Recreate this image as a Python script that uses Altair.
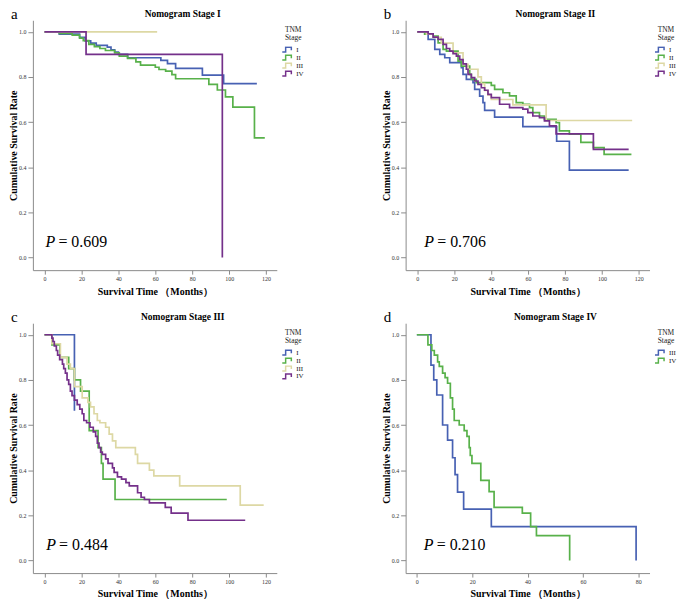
import altair as alt
import pandas as pd

SERIF = "Liberation Serif"

STAGES_ABC = ["I", "II", "III", "IV"]
STAGES_D = ["III", "IV"]
COLORS_ABC = ["#4761b3", "#58b14a", "#ddd8a4", "#74308a"]
COLORS_D = ["#4761b3", "#58b14a"]

PANEL_TITLES = ["Nomogram Stage I", "Nomogram Stage II", "Nomogram Stage III", "Nomogram Stage IV"]
PANEL_LETTERS = ["a", "b", "c", "d"]
P_VALUES = ["0.609", "0.706", "0.484", "0.210"]
X_TICKS_120 = [0, 20, 40, 60, 80, 100, 120]
X_TICKS_80 = [0, 20, 40, 60, 80]
Y_TICKS = [0.0, 0.2, 0.4, 0.6, 0.8, 1.0]

# ---- Panel a (Nomogram Stage I)
A_I_T = [0, 8, 19, 22, 25, 28, 34, 36, 38, 40, 45, 63, 66.6, 71, 85.5, 97, 115]
A_I_S = [1, 0.99, 0.975, 0.96, 0.95, 0.94, 0.932, 0.92, 0.91, 0.90, 0.885, 0.873, 0.859, 0.838, 0.808, 0.77, 0.77]
A_II_T = [0, 8, 15, 19, 21, 24, 27, 30, 33, 38, 40.5, 45, 49.5, 52, 60, 62, 65.6, 69, 71, 89, 93.6, 98, 102, 113.7, 119.3]
A_II_S = [1, 0.993, 0.985, 0.972, 0.961, 0.944, 0.934, 0.926, 0.917, 0.907, 0.892, 0.882, 0.867, 0.852, 0.843, 0.833, 0.826, 0.81, 0.792, 0.767, 0.742, 0.712, 0.666, 0.53, 0.53]
A_III_T = [0, 61]
A_III_S = [1, 1]
A_IV_T = [0, 22.5, 96.3]
A_IV_S = [1, 0.9, 0]

# ---- Panel b (Nomogram Stage II)
B_I_T = [0, 5.9, 9.5, 12.2, 14.9, 17.6, 23.9, 24.8, 26.6, 30.2, 31.1, 33.8, 35.6, 36.5, 41.9, 57.2, 75.5, 82.4, 114.5]
B_I_S = [1, 0.966, 0.922, 0.90, 0.885, 0.863, 0.841, 0.811, 0.789, 0.775, 0.745, 0.715, 0.686, 0.652, 0.622, 0.58, 0.515, 0.387, 0.387]
B_II_T = [0, 4, 8.6, 11.3, 14.0, 15.8, 22.1, 23.9, 28.4, 29.3, 32.0, 40.1, 41.9, 46.4, 50.0, 53.6, 57.2, 60.8, 62.6, 66.2,
          68.9, 75.2, 77.0, 82.4, 88.6, 95.4, 101.2, 116]
B_II_S = [1, 0.99, 0.981, 0.951, 0.922, 0.914, 0.870, 0.848, 0.811, 0.789, 0.775, 0.763, 0.745, 0.730, 0.716, 0.686, 0.678,
          0.664, 0.642, 0.627, 0.612, 0.598, 0.561, 0.546, 0.51, 0.487, 0.457, 0.457]
B_III_T = [0, 5, 8.6, 13, 19.4, 24.8, 27.5, 32.9, 34.7, 36.5, 38.3, 40.1, 51.8, 69.8, 116.4]
B_III_S = [1, 0.99, 0.975, 0.95, 0.907, 0.856, 0.834, 0.80, 0.77, 0.74, 0.72, 0.70, 0.676, 0.607, 0.607]
B_IV_T = [0, 5.9, 8.6, 11.3, 14.0, 15.8, 17.6, 19.4, 21.2, 23.0, 24.8, 26.6, 27.5, 29.3, 31.1, 32.9, 34.7, 36.5, 38.3,
          40.1, 44.6, 50.0, 57.2, 59.9, 62.6, 66.2, 68.9, 71.6, 75.2, 95.4, 114.5]
B_IV_S = [1, 0.991, 0.976, 0.966, 0.944, 0.926, 0.914, 0.903, 0.892, 0.877, 0.858, 0.834, 0.811, 0.797, 0.782, 0.767,
          0.752, 0.741, 0.723, 0.708, 0.679, 0.664, 0.657, 0.642, 0.627, 0.62, 0.605, 0.583, 0.548, 0.479, 0.479]

# ---- Panel c (Nomogram Stage III)
C_I_T = [0, 16.2]
C_I_S = [1, 0.663]
C_II_T = [0, 4, 8.4, 13.1, 16.2, 19.5, 24.2, 29, 30.8, 31.7, 38.2, 98.7]
C_II_S = [1, 0.955, 0.90, 0.85, 0.80, 0.75, 0.575, 0.50, 0.43, 0.36, 0.27, 0.27]
C_III_T = [0, 4, 8.6, 12.2, 14, 16.2, 20.4, 23.5, 24.9, 26.8, 28.6, 30, 33.1, 35, 36.8, 38.6, 49.2, 50.4, 56.8, 59.2,
           73.2, 106, 118.7]
C_III_S = [1, 0.96, 0.90, 0.87, 0.85, 0.77, 0.72, 0.70, 0.68, 0.65, 0.62, 0.61, 0.59, 0.56, 0.53, 0.50, 0.47, 0.43,
           0.40, 0.375, 0.33, 0.245, 0.245]
C_IV_T = [0, 4.0, 4.6, 5.3, 6.4, 7.1, 8.2, 9.7, 10.4, 11.3, 12.2, 13.1, 14.0, 14.9, 16.2, 17.7, 19.1, 20.4, 21.3, 22.8,
          24.6, 26.4, 27.7, 28.6, 29.5, 30.4, 31.3, 33.1, 34.4, 36.8, 37.7, 39.5, 41.7, 44.1, 45.9, 50.4, 52.3, 54.1,
          56.8, 65.4, 68.6, 77.7, 108.7]
C_IV_S = [1, 0.985, 0.97, 0.95, 0.93, 0.91, 0.89, 0.87, 0.85, 0.83, 0.80, 0.78, 0.75, 0.73, 0.71, 0.69, 0.67, 0.65,
          0.62, 0.61, 0.59, 0.57, 0.55, 0.52, 0.50, 0.48, 0.47, 0.45, 0.43, 0.41, 0.39, 0.37, 0.36, 0.345, 0.33, 0.30,
          0.28, 0.27, 0.255, 0.235, 0.21, 0.178, 0.178]

# ---- Panel d (Nomogram Stage IV)
D_III_T = [0, 5.1, 6.1, 7.2, 9.3, 11.1, 12.9, 13.8, 14.7, 16.9, 26.9, 79.2]
D_III_S = [1, 0.865, 0.80, 0.733, 0.60, 0.533, 0.455, 0.38, 0.303, 0.227, 0.15, 0]
D_IV_T = [0, 4.0, 5.4, 6.3, 7.5, 8.1, 9.3, 10.2, 11.1, 12.1, 12.9, 13.5, 15.3, 17.1, 18.1, 18.9, 19.3, 19.9, 23.1,
          26.1, 27.9, 38.1, 41.1, 43.2, 55.2]
D_IV_S = [1, 0.955, 0.93, 0.91, 0.88, 0.86, 0.83, 0.81, 0.785, 0.72, 0.67, 0.62, 0.60, 0.575, 0.55, 0.50, 0.465, 0.43,
          0.355, 0.305, 0.235, 0.21, 0.15, 0.11, 0]

W, H = 245, 251
Y_DOMAIN = [-0.056, 1.051]
STEP_SYMBOL = "M-1.7,0.8H-0.2V-0.8H1.7V0.2"


def panel(series, stages, colors, title, letter, pval, xdom, xticks, p_x):
    rows = []
    for stg, (ts, ss) in zip(stages, series):
        for t, s in zip(ts, ss):
            rows.append({"stage": stg, "t": t, "s": s})
    df = pd.DataFrame(rows)

    x = alt.X("t:Q", scale=alt.Scale(domain=xdom, nice=False, zero=False),
              axis=alt.Axis(values=xticks, format="d", title="Survival Time （Months）"))
    y = alt.Y("s:Q", scale=alt.Scale(domain=Y_DOMAIN, nice=False, zero=False),
              axis=alt.Axis(values=Y_TICKS, format=".1f", title="Cumulative Survival Rate"))

    lines = alt.Chart(df).mark_line(interpolate="step-after", strokeWidth=1.7).encode(
        x=x, y=y,
        color=alt.Color("stage:N", scale=alt.Scale(domain=stages, range=colors),
                        legend=alt.Legend(title=["TNM", "Stage"], orient="none", legendX=250.5, legendY=6,
                                          symbolType=STEP_SYMBOL, symbolSize=36, symbolStrokeWidth=1.5,
                                          symbolFillColor="transparent", clipHeight=7,
                                          labelFont=SERIF, labelFontSize=7, labelOffset=6, labelColor="#222",
                                          titleFont=SERIF, titleFontSize=7.5, titleFontWeight="normal",
                                          titleColor="#222", titleAnchor="middle", titleLineHeight=7.5,
                                          titlePadding=5, rowPadding=0, padding=0)),
    )

    ann = pd.DataFrame({"t": [p_x], "s": [0.047], "P": ["P"], "rest": ["= " + pval], "letter": [letter],
                        "title": [title]})
    p_it = alt.Chart(ann).mark_text(font=SERIF, fontStyle="italic", fontSize=16, align="left",
                                    baseline="alphabetic").encode(x=x, y=y, text="P:N")
    p_rest = alt.Chart(ann).mark_text(font=SERIF, fontSize=16, align="left", baseline="alphabetic",
                                      dx=13).encode(x=x, y=y, text="rest:N")
    let = alt.Chart(ann).mark_text(font=SERIF, fontSize=15, align="left", baseline="alphabetic").encode(
        x=alt.value(-22), y=alt.value(-1.2), text="letter:N")
    ttl = alt.Chart(ann).mark_text(font=SERIF, fontSize=9.5, fontWeight="bold", align="center",
                                   baseline="alphabetic", color="#000").encode(
        x=alt.value(W / 2 + 28), y=alt.value(-3.5), text="title:N")

    return alt.layer(lines, p_it, p_rest, let, ttl).properties(width=W, height=H)


pa = panel([(A_I_T, A_I_S), (A_II_T, A_II_S), (A_III_T, A_III_S), (A_IV_T, A_IV_S)], STAGES_ABC, COLORS_ABC,
           PANEL_TITLES[0], PANEL_LETTERS[0], P_VALUES[0], [-6.3, 125.8], X_TICKS_120, 0.5)
pb = panel([(B_I_T, B_I_S), (B_II_T, B_II_S), (B_III_T, B_III_S), (B_IV_T, B_IV_S)], STAGES_ABC, COLORS_ABC,
           PANEL_TITLES[1], PANEL_LETTERS[1], P_VALUES[1], [-6.3, 125.8], X_TICKS_120, 3.8)
pc = panel([(C_I_T, C_I_S), (C_II_T, C_II_S), (C_III_T, C_III_S), (C_IV_T, C_IV_S)], STAGES_ABC, COLORS_ABC,
           PANEL_TITLES[2], PANEL_LETTERS[2], P_VALUES[2], [-6.3, 125.8], X_TICKS_120, 0.9)
pd_ = panel([(D_III_T, D_III_S), (D_IV_T, D_IV_S)], STAGES_D, COLORS_D,
            PANEL_TITLES[3], PANEL_LETTERS[3], P_VALUES[3], [-4.06, 84.05], X_TICKS_80, 2.5)

chart = alt.concat(pa, pb, pc, pd_, columns=2, spacing={"row": 53.3, "column": 129.4},
                   bounds="flush").resolve_scale(color="independent").properties(
    padding={"left": 0, "top": -3, "right": 0, "bottom": 0}, background="white"
).configure_view(stroke=None).configure_axis(
    grid=False, domainColor="#8a8a8a", tickColor="#8a8a8a", labelColor="#333333", titleColor="#000000",
    labelFont=SERIF, labelFontSize=6, titleFont=SERIF, titleFontSize=10, titleFontWeight="bold",
).configure_axisY(
    tickSize=5, labelPadding=2, titlePadding=0,
).configure_axisX(
    tickSize=4, labelPadding=1, titlePadding=5,
)

chart.save("out.html", embed_options={"renderer": "svg", "actions": False})
